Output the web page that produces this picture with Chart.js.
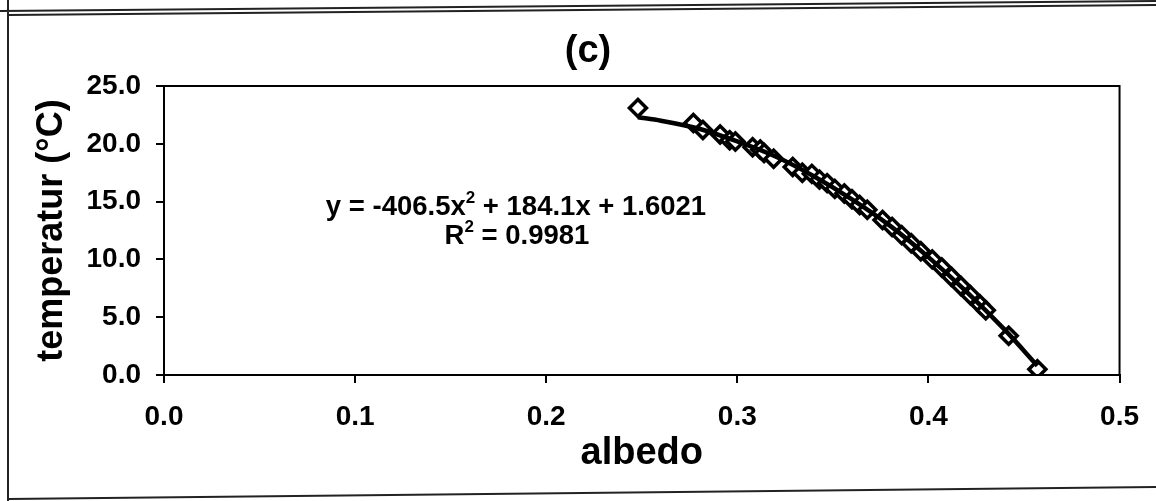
<!DOCTYPE html>
<html>
<head>
<meta charset="utf-8">
<script src="https://cdn.jsdelivr.net/npm/chart.js@4/dist/chart.umd.min.js"></script>
<style>
  html, body { margin: 0; padding: 0; background: #fff; }
  #wrap { position: relative; width: 1156px; height: 501px; }
</style>
</head>
<body>
<div id="wrap"><canvas id="chart"></canvas></div>
<script>
// measured points (albedo vs temperature)
const albedo = [0.248, 0.277, 0.282, 0.291, 0.296, 0.299, 0.308, 0.312, 0.314, 0.319, 0.329, 0.334,
  0.339, 0.343, 0.347, 0.351, 0.356, 0.360, 0.364, 0.368,
  0.376, 0.381, 0.386, 0.391, 0.396, 0.402, 0.407, 0.412, 0.417, 0.422, 0.427, 0.430,
  0.442, 0.457];
const temperature = [23.1, 21.8, 21.2, 20.8, 20.3, 20.2, 19.7, 19.5, 19.2, 18.7, 18.0, 17.5,
  17.4, 16.9, 16.6, 16.1, 15.7, 15.2, 14.7, 14.3,
  13.4, 12.8, 12.1, 11.4, 10.7, 10.0, 9.3, 8.5, 7.7, 6.9, 6.1, 5.6,
  3.4, 0.5];

// polynomial trendline as drawn
const trendAlbedo = [0.248, 0.26, 0.28, 0.30, 0.32, 0.34, 0.36, 0.38, 0.40, 0.42, 0.44, 0.457];
const trendTemp = [22.3, 22.0, 21.3, 20.2, 18.9, 17.2, 15.2, 12.9, 10.2, 7.2, 3.9, 0.8];

const xTickLabels = ["0.0", "0.1", "0.2", "0.3", "0.4", "0.5"];
const yTickLabels = ["0.0", "5.0", "10.0", "15.0", "20.0", "25.0"];

const FONT = "'Liberation Sans', Arial, sans-serif";

function drawSup(ctx, parts, cx, y, size) {
  // parts: [text, isSup]
  let total = 0;
  const widths = parts.map(([t, sup]) => {
    ctx.font = "bold " + (sup ? Math.round(size * 0.6) : size) + "px " + FONT;
    const w = ctx.measureText(t).width;
    total += w;
    return w;
  });
  let x = cx - total / 2;
  parts.forEach(([t, sup], i) => {
    ctx.font = "bold " + (sup ? Math.round(size * 0.6) : size) + "px " + FONT;
    ctx.fillText(t, x, sup ? y - size * 0.42 : y);
    x += widths[i];
  });
}

const decor = {
  id: "decor",
  afterDraw(chart) {
    const ctx = chart.ctx;
    const a = chart.chartArea;
    ctx.save();
    ctx.strokeStyle = "#000";
    ctx.lineWidth = 2;
    ctx.strokeRect(a.left, a.top, a.right - a.left, a.bottom - a.top);

    // panel frame
    ctx.lineWidth = 2;
    ctx.strokeStyle = "#222";
    ctx.beginPath();
    ctx.moveTo(0, 11); ctx.lineTo(1156, 1);
    ctx.moveTo(8, 15); ctx.lineTo(1156, 5);
    ctx.moveTo(8, 0); ctx.lineTo(8, 501);
    ctx.moveTo(8, 499); ctx.lineTo(1156, 487);
    ctx.stroke();

    ctx.fillStyle = "#000";
    ctx.textAlign = "center";
    ctx.textBaseline = "middle";
    ctx.font = "bold 38px " + FONT;
    ctx.fillText("(c)", 588, 52);

    ctx.textAlign = "left";
    ctx.textBaseline = "alphabetic";
    drawSup(ctx, [["y = -406.5x", false], ["2", true], [" + 184.1x + 1.6021", false]], 516, 215, 27.5);
    drawSup(ctx, [["R", false], ["2", true], [" = 0.9981", false]], 517, 244, 27.5);
    ctx.restore();
  }
};

new Chart(document.getElementById("chart"), {
  type: "scatter",
  data: {
    datasets: [
      {
        label: "trend",
        data: trendAlbedo.map((x, i) => ({ x, y: trendTemp[i] })),
        showLine: true,
        borderColor: "#000",
        borderWidth: 4.5,
        pointRadius: 0,
        cubicInterpolationMode: "monotone",
        order: 0
      },
      {
        label: "temperatur",
        data: albedo.map((x, i) => ({ x, y: temperature[i] })),
        pointStyle: "rectRot",
        pointRadius: 8.5,
        pointBorderWidth: 3.5,
        pointBorderColor: "#000",
        pointBackgroundColor: "#fff",
        order: 1
      }
    ]
  },
  options: {
    responsive: true,
    maintainAspectRatio: false,
    animation: false,
    layout: { padding: { top: 86, right: 23, left: 0, bottom: 0 } },
    plugins: { legend: { display: false }, tooltip: { enabled: false } },
    scales: {
      x: {
        type: "linear",
        min: 0,
        max: 0.5,
        afterFit: s => { s.height = 126; },
        ticks: {
          stepSize: 0.1,
          padding: 17,
          color: "#000",
          font: { family: FONT, size: 28, weight: "bold" },
          callback: (v, i) => xTickLabels[i]
        },
        grid: { display: true, drawOnChartArea: false, drawTicks: true, tickLength: 8, color: "#000", lineWidth: 2 },
        border: { display: true, color: "#000", width: 2 },
        title: {
          display: true,
          text: "albedo",
          color: "#000",
          font: { family: FONT, size: 38, weight: "bold" },
          padding: { top: 0, bottom: 25 }
        }
      },
      y: {
        min: 0,
        max: 25,
        afterFit: s => { s.width = 164; },
        ticks: {
          stepSize: 5,
          padding: 15,
          color: "#000",
          font: { family: FONT, size: 28, weight: "bold" },
          callback: (v, i) => yTickLabels[i]
        },
        grid: { display: true, drawOnChartArea: false, drawTicks: true, tickLength: 8, color: "#000", lineWidth: 2 },
        border: { display: true, color: "#000", width: 2 },
        title: {
          display: true,
          text: "temperatur (°C)",
          color: "#000",
          font: { family: FONT, size: 36, weight: "bold" },
          padding: { top: 30, bottom: 0 }
        }
      }
    }
  },
  plugins: [decor]
});
</script>
</body>
</html>
